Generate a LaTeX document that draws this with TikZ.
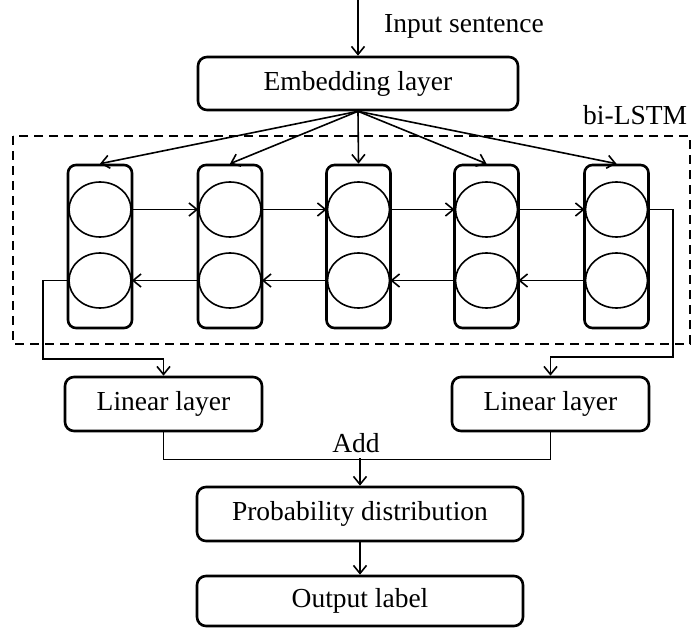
\documentclass[tikz,border=0pt]{standalone}
\usepackage{fontspec}
\setmainfont{Liberation Serif}
\usetikzlibrary{arrows.meta,shapes.geometric}
\begin{document}
\begin{tikzpicture}[x=1pt,y=-1pt,
  txt/.style={font=\fontsize{27.5}{33}\selectfont},
  box/.style={draw, line width=2.6pt, rounded corners=9pt, inner sep=0pt, txt},
  cell/.style={draw, line width=2.6pt, rounded corners=8pt, minimum width=64pt, minimum height=163pt, inner sep=0pt},
  unit/.style={draw, line width=1.6pt, ellipse, minimum width=62pt, minimum height=55pt, inner sep=0pt},
  conn/.style={line width=1.6pt},
  arr/.style={conn, -{Straight Barb[length=8pt,width=13pt]}},
  lbl/.style={txt, inner sep=0pt}
]
\useasboundingbox (0,0) rectangle (696,628);

% dashed bi-LSTM frame
\draw[line width=1.6pt, dash pattern=on 9pt off 6pt] (13,136) rectangle (690,344);
\node[lbl, anchor=base west] (bilstm) at (583,125) {bi-LSTM};

% boxes
\node[box, minimum width=320pt, minimum height=53pt] (emb) at (358,83.5) {Embedding layer};
\node[box, minimum width=197pt, minimum height=54pt] (linL) at (163.5,404) {Linear layer};
\node[box, minimum width=197pt, minimum height=54pt] (linR) at (550.5,404) {Linear layer};
\node[box, minimum width=326pt, minimum height=54pt] (prob) at (360,514) {Probability distribution};
\node[box, minimum width=326pt, minimum height=50pt] (out) at (360,601) {Output label};

% LSTM cells
\foreach \i/\x in {1/100,2/230,3/358.5,4/486.5,5/616.5}{
  \node[cell] (c\i) at (\x,246.5) {};
  \node[unit] (c\i t) at (\x,209.5) {};
  \node[unit] (c\i b) at (\x,280.5) {};
}

% input
\coordinate (in) at (358,0);
\draw[arr] (in) -- (emb.north);
\node[lbl, anchor=base west] (inlbl) at (384,33) {Input sentence};

% embedding to cells
\foreach \i in {1,...,5}{
  \draw[arr] (emb.south) -- (c\i.north);
}

% forward / backward
\foreach \a/\b in {1/2,2/3,3/4,4/5}{
  \draw[arr] (c\a t.east) -- (c\b t.west);
  \draw[arr] (c\b b.west) -- (c\a b.east);
}

% outputs to linear layers
\coordinate (l1) at (43,359);
\coordinate (r1) at (673,357);
\draw[arr] (c1b.west) -| (l1) -| (linL.north);
\draw[arr] (c5t.east) -| (r1) -| (linR.north);

% add
\draw[conn] (linL.south) -- ++(0,27) -| (linR.south);
\coordinate (m) at (360,458);
\node[lbl, anchor=base] (add) at (356,452) {Add};
\draw[arr] (m) -- (prob.north);
\draw[arr] (prob.south) -- (out.north);
\end{tikzpicture}
\end{document}
